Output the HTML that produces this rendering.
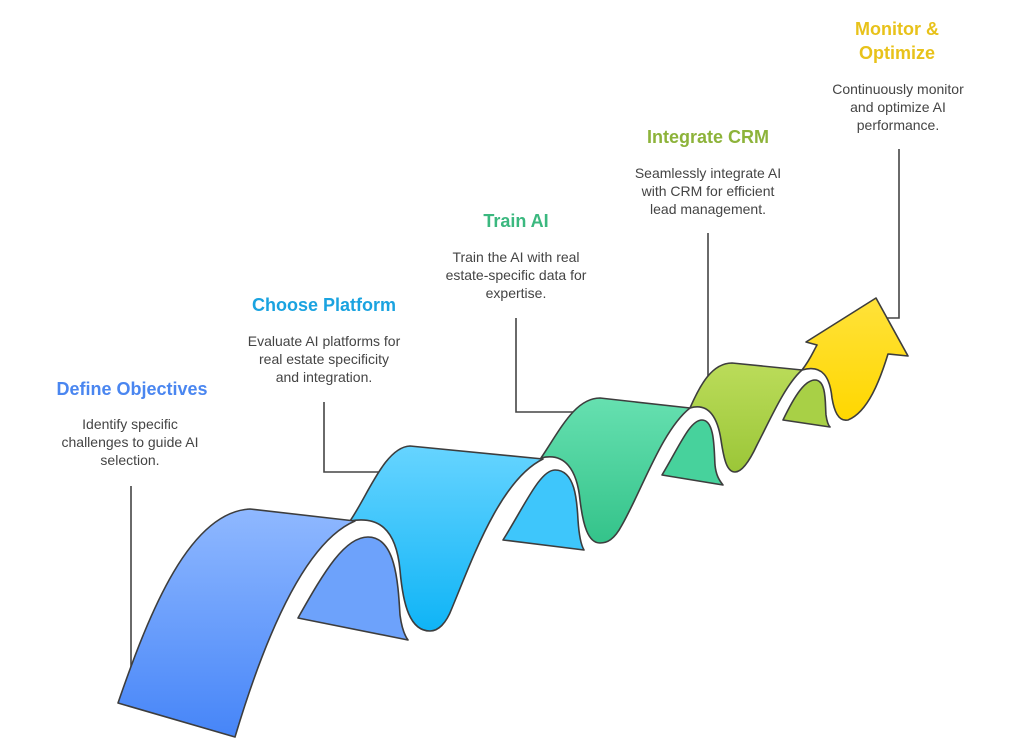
<!DOCTYPE html>
<html><head><meta charset="utf-8"><style>
html,body{margin:0;padding:0;background:#fff;}
svg{display:block}
text{font-family:"Liberation Sans",sans-serif;}
.t{font-weight:bold;font-size:18px;text-anchor:middle}
.d{font-size:14px;fill:#444;text-anchor:middle}
.ln{fill:none;stroke:#454545;stroke-width:1.6}
.o{stroke:#3d3d3d;stroke-width:1.6;stroke-linejoin:round}
</style></head><body>
<svg width="1032" height="756" viewBox="0 0 1032 756" xmlns="http://www.w3.org/2000/svg">
<defs>
<linearGradient id="gb" x1="0" y1="0" x2="0" y2="1"><stop offset="0" stop-color="#8fb8ff"/><stop offset="1" stop-color="#4685f8"/></linearGradient>
<linearGradient id="gc" x1="0" y1="0" x2="0" y2="1"><stop offset="0" stop-color="#66d4ff"/><stop offset="1" stop-color="#0fb4f6"/></linearGradient>
<linearGradient id="gg" x1="0" y1="0" x2="0" y2="1"><stop offset="0" stop-color="#66e0b0"/><stop offset="1" stop-color="#34c38a"/></linearGradient>
<linearGradient id="gl" x1="0" y1="0" x2="0" y2="1"><stop offset="0" stop-color="#bbdc5a"/><stop offset="1" stop-color="#9bc638"/></linearGradient>
<linearGradient id="gy" x1="0" y1="0" x2="0" y2="1"><stop offset="0" stop-color="#ffe23a"/><stop offset="1" stop-color="#ffd700"/></linearGradient>
</defs>

<!-- connectors -->
<path class="ln" d="M131,486 V668"/>
<path class="ln" d="M324,402 V472 H390"/>
<path class="ln" d="M516,318 V412 H575"/>
<path class="ln" d="M708,233 V382"/>
<path class="ln" d="M899,149 V318 H878"/>

<!-- back folds -->
<path class="o" fill="#6da2fb" d="M298,618 C325,570 345,537 368,537 C395,537 398,580 400,615 C402,630 405,636 408,640 Z"/>
<path class="o" fill="#3ec6fb" d="M503,540 C525,505 540,470 555,470 C575,470 577,500 578,520 C579,535 581,545 584,550 Z"/>
<path class="o" fill="#47d29c" d="M662,475 C680,445 690,420 702,420 C715,420 714,450 715,465 C716,475 719,480 723,485 Z"/>
<path class="o" fill="#a8d046" d="M783,420 C795,395 805,380 815,380 C827,380 825,405 826,415 C827,422 828,425 830,427 Z"/>

<!-- strips -->
<path class="o" fill="url(#gy)" d="M802,370 C810,360 813,352 817,345 L806,342 L876,298 L908,356 L888,354 C880,380 868,412 848,420 C838,422 834,410 832,398 C830,378 823,364 802,370 Z"/>
<path class="o" fill="url(#gl)" d="M690,408 C700,385 712,363 732,363 L802,370 C785,385 770,420 757,445 C750,460 742,472 735,472 C727,472 724,460 721,440 C718,420 710,402 690,408 Z"/>
<path class="o" fill="url(#gg)" d="M541,458 C560,430 575,398 600,398 L690,408 C662,430 642,490 622,525 C614,540 607,543 600,543 C588,543 583,525 580,500 C577,470 565,452 541,458 Z"/>
<path class="o" fill="url(#gc)" d="M350,521 C368,495 385,447 410,446 L543,459 C500,480 472,560 452,608 C446,624 438,631 430,631 C410,631 403,605 400,570 C396,528 378,516 350,521 Z"/>
<path class="o" fill="url(#gb)" d="M118,703 C150,610 190,512 250,509 L355,521 C310,540 270,620 235,737 Z"/>

<!-- labels -->
<text class="t" x="132" y="395" fill="#4a86f0">Define Objectives</text>
<text class="d" x="130" y="429">Identify specific</text>
<text class="d" x="130" y="447">challenges to guide AI</text>
<text class="d" x="130" y="465">selection.</text>

<text class="t" x="324" y="311" fill="#1aa3e0">Choose Platform</text>
<text class="d" x="324" y="346">Evaluate AI platforms for</text>
<text class="d" x="324" y="364">real estate specificity</text>
<text class="d" x="324" y="382">and integration.</text>

<text class="t" x="516" y="227" fill="#3bb87f">Train AI</text>
<text class="d" x="516" y="262">Train the AI with real</text>
<text class="d" x="516" y="280">estate-specific data for</text>
<text class="d" x="516" y="298">expertise.</text>

<text class="t" x="708" y="143" fill="#8db33a">Integrate CRM</text>
<text class="d" x="708" y="178">Seamlessly integrate AI</text>
<text class="d" x="708" y="196">with CRM for efficient</text>
<text class="d" x="708" y="214">lead management.</text>

<text class="t" x="897" y="35" fill="#e8c21a">Monitor &amp;</text>
<text class="t" x="897" y="59" fill="#e8c21a">Optimize</text>
<text class="d" x="898" y="94">Continuously monitor</text>
<text class="d" x="898" y="112">and optimize AI</text>
<text class="d" x="898" y="130">performance.</text>
</svg>
</body></html>
